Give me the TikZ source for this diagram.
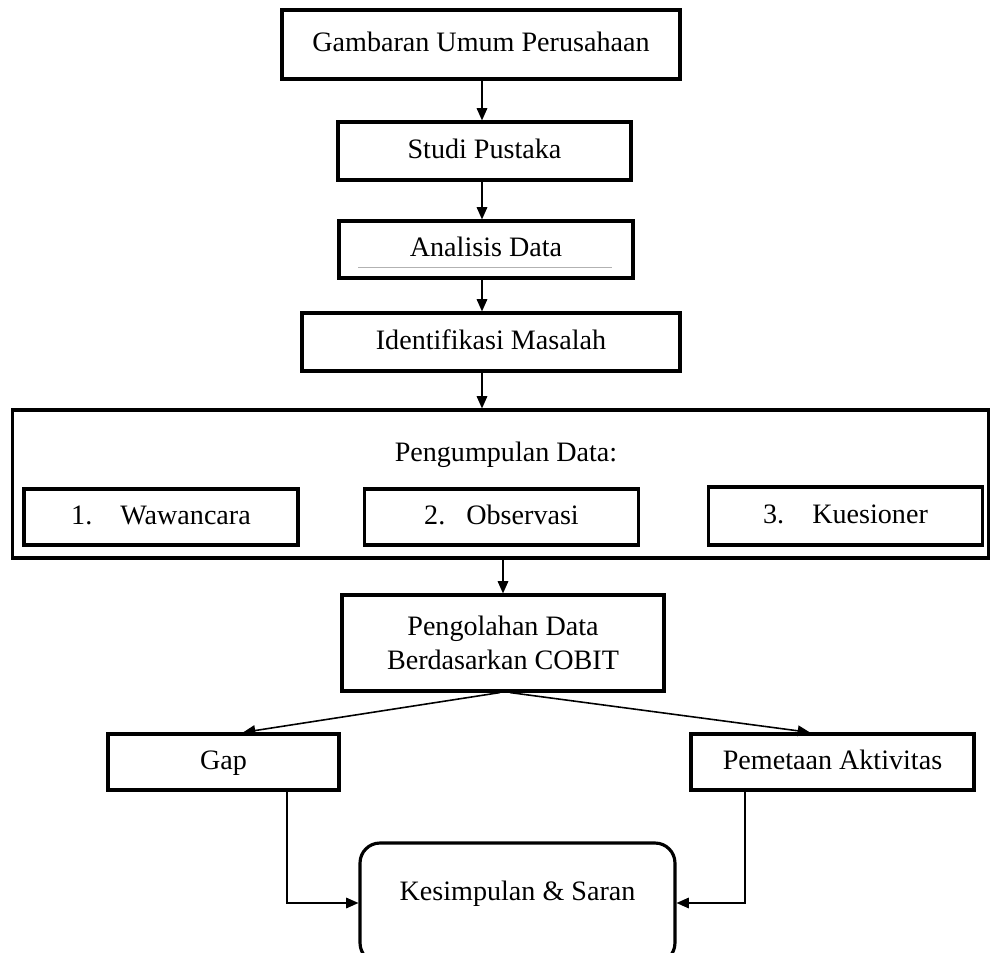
\documentclass[tikz,border=0pt]{standalone}
\usepackage{fontspec}
\setmainfont{Liberation Serif}
\usetikzlibrary{arrows.meta}

\begin{document}
\begin{tikzpicture}[x=0.02cm, y=-0.02cm, line width=0.9pt,
        font=\fontsize{16}{19}\selectfont,
        >={Triangle[length=7pt, width=6pt]},
        box/.style = {draw, line width=1.8pt, inner sep=0pt, align=center},
        main/.style = {box, text height=11pt, text depth=3pt},
        sub/.style = {main, minimum width=5.48cm, minimum height=1.12cm}]
        \useasboundingbox (0,0) rectangle (992,953);
        \coordinate (axis) at (482,0);

        \node[main, minimum width=7.96cm, minimum height=1.38cm] (umum) at (481,44.5) {Gambaran Umum Perusahaan};
        \node[main, minimum width=5.86cm, minimum height=1.16cm] (studi) at (484.5,151) {Studi Pustaka};
        \node[main, minimum width=5.88cm, minimum height=1.14cm] (analisis) at (486,249.5) {Analisis Data};
        \node[main, minimum width=7.56cm, minimum height=1.16cm] (masalah) at (491,342) {Identifikasi Masalah};

        % kotak pengumpulan data
        \node[box, minimum width=19.54cm, minimum height=2.96cm] (kumpul) at (500.5,484) {};
        \node (judul) at (506,455) {Pengumpulan Data:};
        \node[sub] (wawancara) at (161,517) {1.\quad Wawancara};
        \node[sub] (observasi) at (501.5,517) {2.\hspace{0.75em}Observasi};
        \node[sub, minimum height=1.16cm] (kuesioner) at (845.5,516) {3.\quad Kuesioner};

        \node[box, minimum width=6.44cm, minimum height=1.92cm] (olah) at (503,643) {Pengolahan Data\\Berdasarkan COBIT};
        \node[main, minimum width=4.62cm, minimum height=1.12cm] (gap) at (223.5,762) {Gap};
        \node[main, minimum width=5.66cm, minimum height=1.12cm] (peta) at (832.5,762) {Pemetaan Aktivitas};
        \node[main, rounded corners=0.4cm, minimum width=6.3cm, minimum height=2.4cm] (simpul) at (517.5,903) {\raisebox{0.2cm}{Kesimpulan \& Saran}};

        \draw[gray!60, line width=0.4pt] (358,267) -- (612,267);

        \draw[->] (axis |- umum.south) -- (axis |- studi.north);
        \draw[->] (axis |- studi.south) -- (axis |- analisis.north);
        \draw[->] (axis |- analisis.south) -- (axis |- masalah.north);
        \draw[->] (axis |- masalah.south) -- (axis |- kumpul.north);
        \draw[->] (olah.north |- kumpul.south) -- (olah.north);
        \draw[->] ([xshift=-0.06cm]olah.south) -- ([xshift=0.39cm]gap.north);
        \draw[->] ([xshift=0.14cm]olah.south) -- ([xshift=-0.45cm]peta.north);
        \draw[->] ([xshift=1.27cm]gap.south) |- (simpul.west);
        \draw[->] ([xshift=-1.75cm]peta.south) |- (simpul.east);
    \end{tikzpicture}
\end{document}
